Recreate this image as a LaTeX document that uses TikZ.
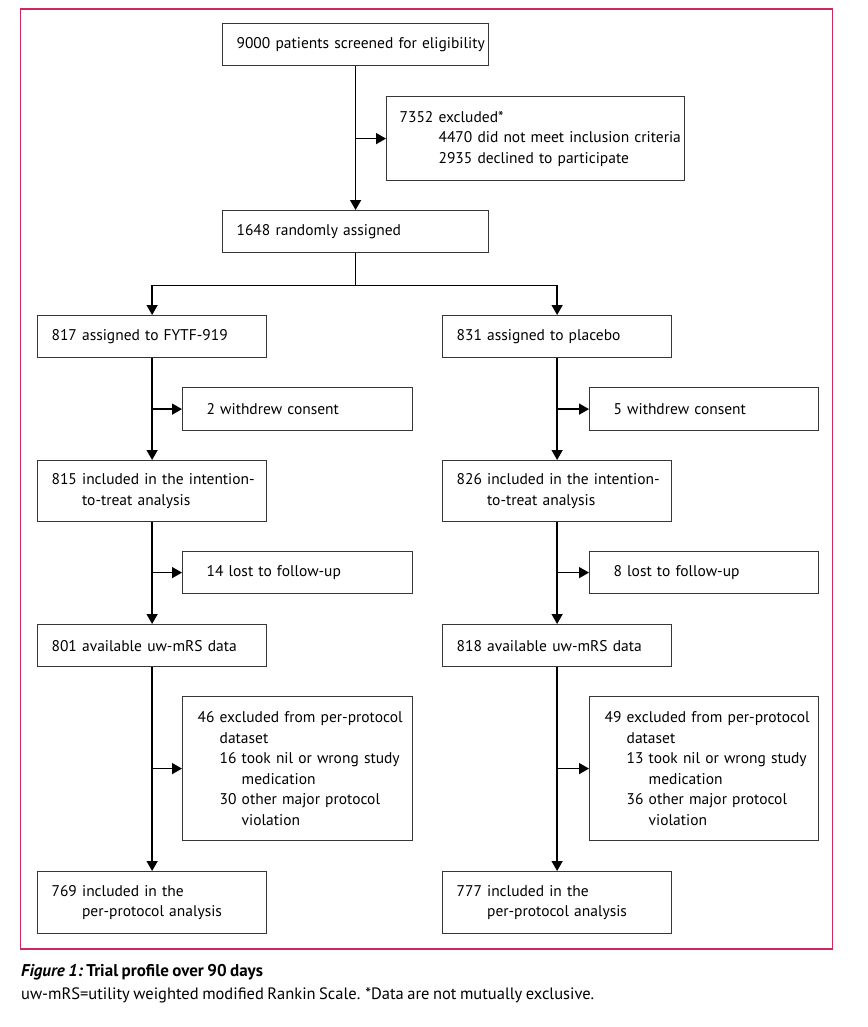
\documentclass[tikz,border=0pt]{standalone}
\usepackage{fontspec}
\setmainfont{PT Sans}[WordSpace=0.8]
\usetikzlibrary{arrows.meta}
\definecolor{framepink}{RGB}{208,40,92}
\definecolor{boxgray}{RGB}{55,55,55}
\newcommand{\tl}[1]{\mbox{#1}}
\begin{document}
\begin{tikzpicture}[x=1pt,y=-1pt,
  every node/.style={font=\fontsize{15.5}{20.5}\selectfont, text=black},
  fbox/.style 2 args={draw=boxgray, line width=1.2pt, anchor=north west,
    inner ysep=0pt, inner xsep=14pt, align=left,
    text width=#1pt-28pt, minimum height=#2pt},
  wbox/.style 2 args={fbox={#1}{#2}, inner xsep=24pt, text width=#1pt-48pt},
  conn/.style={line width=1.4pt, black},
  arr/.style={conn, -{Triangle[length=10pt,width=11pt]}}]
\useasboundingbox (0,0) rectangle (867,1027);
\draw[framepink, line width=1.1pt] (20.5,9) rectangle (832.5,949);

\node[fbox={266}{42}] (top) at (222,23) {\tl{9000 patients screened for eligibility}};
\node[fbox={298}{84}, inner xsep=13pt, text width=272pt] (excl) at (386,96) {\tl{7352 excluded*}\\
  \tl{\hphantom{7352 }4470 did not meet inclusion criteria}\\
  \tl{\hphantom{7352 }2935 declined to participate}};
\node[fbox={266}{42}] (rand) at (222,210) {\tl{1648 randomly assigned}};

\node[fbox={229}{42}] (L1) at (37,315) {\tl{817 assigned to FYTF-919}};
\node[fbox={229}{42}] (R1) at (442,315) {\tl{831 assigned to placebo}};

\node[wbox={230}{43}] (W1) at (182,387) {\tl{2 withdrew consent}};
\node[wbox={229}{43}] (W2) at (589,387) {\tl{5 withdrew consent}};

\node[fbox={229}{61}] (L2) at (37,460) {\tl{815 included in the intention-}\\\tl{\hphantom{815 }to-treat analysis}};
\node[fbox={229}{61}] (R2) at (442,460) {\tl{826 included in the intention-}\\\tl{\hphantom{826 }to-treat analysis}};

\node[wbox={230}{42}] (F1) at (182,551) {\tl{14 lost to follow-up}};
\node[wbox={229}{42}] (F2) at (589,551) {\tl{8 lost to follow-up}};

\node[fbox={229}{42}] (L3) at (37,624) {\tl{801 available uw-mRS data}};
\node[fbox={229}{42}] (R3) at (442,624) {\tl{818 available uw-mRS data}};

\node[fbox={230}{144}, inner xsep=15pt, text width=200pt] (P1) at (182,696) {\tl{46 excluded from per-protocol}\\
  \tl{\hphantom{46 }dataset}\\
  \tl{\hphantom{46 }16 took nil or wrong study}\\
  \tl{\hphantom{46 16 }medication}\\
  \tl{\hphantom{46 }30 other major protocol}\\
  \tl{\hphantom{46 30 }violation}};
\node[fbox={229}{144}, inner xsep=15pt, text width=199pt] (P2) at (589,696) {\tl{49 excluded from per-protocol}\\
  \tl{\hphantom{49 }dataset}\\
  \tl{\hphantom{49 }13 took nil or wrong study}\\
  \tl{\hphantom{49 13 }medication}\\
  \tl{\hphantom{49 }36 other major protocol}\\
  \tl{\hphantom{49 36 }violation}};

\node[fbox={229}{62}] (L4) at (37,871) {\tl{769 included in the}\\\tl{\hphantom{769 }per-protocol analysis}};
\node[fbox={229}{62}] (R4) at (442,871) {\tl{777 included in the}\\\tl{\hphantom{777 }per-protocol analysis}};

% connectors
\draw[arr] (top.south) -- (rand.north);
\coordinate (e0) at (top.south |- excl.west);
\draw[arr] (e0) -- (excl.west);
\draw[conn] (rand.south) -- ++(0,32) coordinate (split);
\draw[arr] (split) -| (L1.north);
\draw[arr] (split) -| (R1.north);

\foreach \a/\b/\s in {L1/L2/W1, L2/L3/F1, L3/L4/P1, R1/R2/W2, R2/R3/F2, R3/R4/P2}{
  \draw[arr] (\a.south) -- (\b.north);
  \coordinate (c\s) at (\a.south |- \s.west);
  \draw[arr] (c\s) -- (\s.west);
}

\node[anchor=west, inner sep=0pt, font=\fontsize{17}{20}\selectfont] (cap1) at (21,972)
  {\bfseries\itshape Figure 1:\upshape\ Trial profile over 90 days};
\node[anchor=west, inner sep=0pt, font=\fontsize{16.5}{20}\selectfont] (cap2) at (21,995)
  {uw-mRS=utility weighted modified Rankin Scale. *Data are not mutually exclusive.};
\end{tikzpicture}
\end{document}
